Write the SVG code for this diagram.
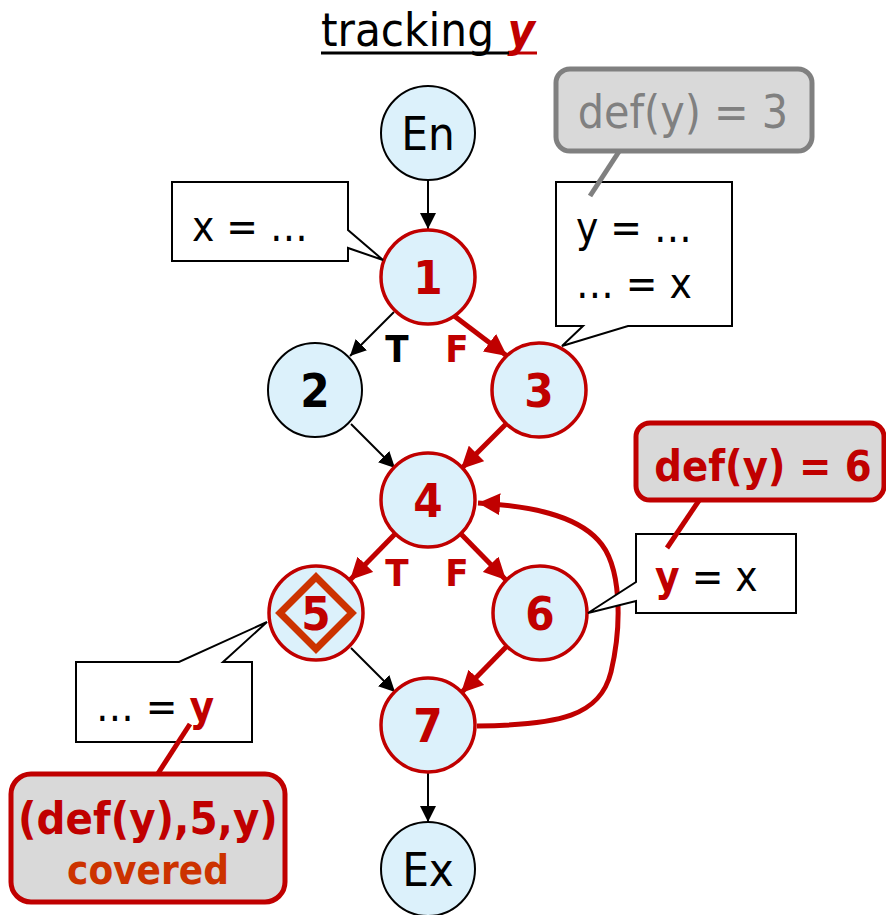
<svg xmlns="http://www.w3.org/2000/svg" width="886" height="915" viewBox="0 0 886 915">
<defs>
<style>
text{font-family:"DejaVu Sans Condensed","DejaVu Sans",sans-serif;font-stretch:condensed}
.node{fill:#dcf1fb;stroke:#000;stroke-width:2}
.rnode{fill:#dcf1fb;stroke:#c00000;stroke-width:3.5}
.nl{font-size:47px;text-anchor:middle;fill:#000}
.rl{font-size:47px;font-weight:bold;text-anchor:middle;fill:#c00000}
.e{stroke:#000;stroke-width:2;fill:none;marker-end:url(#ab)}
.re{stroke:#c00000;stroke-width:5;fill:none;marker-end:url(#ar)}
.box{fill:#fff;stroke:#000;stroke-width:2}
.ct{font-size:42px;fill:#000}
.red{fill:#c00000;font-weight:bold}
.tf{font-size:38px;font-weight:bold}
</style>
<marker id="ab" viewBox="0 0 10 10" refX="10" refY="5" markerWidth="16" markerHeight="16" markerUnits="userSpaceOnUse" orient="auto"><path d="M0,0L10,5L0,10z" fill="#000"/></marker>
<marker id="ar" viewBox="0 0 10 10" refX="10" refY="5" markerWidth="22" markerHeight="22" markerUnits="userSpaceOnUse" orient="auto"><path d="M0,0L10,5L0,10z" fill="#c00000"/></marker>
</defs>
<rect width="886" height="915" fill="#fff"/>

<g id="title">
<text x="321" y="46" font-size="47"><tspan fill="#000">tracking </tspan><tspan fill="#c00000" font-weight="bold" font-style="italic">y</tspan></text>
<line x1="321" y1="53" x2="509" y2="53" stroke="#000" stroke-width="3"/>
<line x1="509" y1="53" x2="537" y2="53" stroke="#c00000" stroke-width="3"/>
</g>

<g id="connectors">
<line class="e" x1="428" y1="180" x2="428" y2="229"/>
<line class="e" x1="394" y1="312" x2="350" y2="356"/>
<line class="re" x1="449" y1="312" x2="507" y2="356"/>
<line class="e" x1="351" y1="424" x2="395" y2="468"/>
<line class="re" x1="506" y1="424" x2="461" y2="469"/>
<line class="re" x1="395" y1="534" x2="350" y2="580"/>
<line class="re" x1="461" y1="534" x2="506" y2="580"/>
<line class="e" x1="351" y1="648" x2="395" y2="692"/>
<line class="re" x1="506" y1="647" x2="461" y2="693"/>
<line class="e" x1="428" y1="773" x2="428" y2="822"/>
<path class="re" d="M477,726 C560,725 600,716 611,672 C622,625 622,565 598,540 C575,515 530,506 478,503"/>
<text class="tf" x="397" y="362" text-anchor="middle" fill="#000">T</text>
<text class="tf" x="457" y="362" text-anchor="middle" fill="#c00000">F</text>
<text class="tf" x="397" y="586" text-anchor="middle" fill="#c00000">T</text>
<text class="tf" x="457" y="586" text-anchor="middle" fill="#c00000">F</text>
</g>

<g id="nEn"><circle class="node" cx="428" cy="133" r="47"/><text class="nl" x="428" y="150">En</text></g>
<g id="n1"><circle class="rnode" cx="428" cy="277" r="47"/><text class="rl" x="428" y="294">1</text></g>
<g id="n2"><circle class="node" cx="315" cy="390" r="47"/><text class="nl" x="315" y="407" font-weight="bold">2</text></g>
<g id="n3"><circle class="rnode" cx="539" cy="390" r="47"/><text class="rl" x="539" y="407">3</text></g>
<g id="n4"><circle class="rnode" cx="428" cy="500" r="47"/><text class="rl" x="428" y="517">4</text></g>
<g id="n5"><circle class="rnode" cx="316" cy="613" r="47"/><path d="M316,577 L352,613 L316,649 L280,613 Z" fill="none" stroke="#cc3300" stroke-width="7"/><text class="rl" x="316" y="630">5</text></g>
<g id="n6"><circle class="rnode" cx="540" cy="613" r="47"/><text class="rl" x="540" y="630">6</text></g>
<g id="n7"><circle class="rnode" cx="428" cy="725" r="47"/><text class="rl" x="428" y="742">7</text></g>
<g id="nEx"><circle class="node" cx="428" cy="869" r="47"/><text class="nl" x="428" y="886">Ex</text></g>

<g id="c1">
<path class="box" d="M172,182 H348 V230 L383,260 L348,248 V261 H172 Z"/>
<text class="ct" x="192" y="241">x = …</text>
</g>

<g id="c3">
<path class="box" d="M556,182 H732 V326 H628 L562,346 L583,326 H556 Z"/>
<text class="ct" x="576" y="242">y = …</text>
<text class="ct" x="576" y="298">… = x</text>
</g>

<g id="d3">
<line x1="620" y1="150" x2="590" y2="196" stroke="#808080" stroke-width="5"/>
<rect x="556" y="69" width="256" height="82" rx="14" fill="#d9d9d9" stroke="#808080" stroke-width="5"/>
<text x="683" y="128" font-size="46" fill="#808080" text-anchor="middle">def(y) = 3</text>
</g>

<g id="c6">
<path class="box" d="M636,534 H796 V613 H636 V601 L588,613 L636,582 Z"/>
<text class="ct" x="655" y="591"><tspan class="red">y</tspan> = x</text>
</g>

<g id="d6">
<line x1="700" y1="499" x2="667" y2="548" stroke="#c00000" stroke-width="5"/>
<rect x="636" y="423" width="248" height="77" rx="14" fill="#d9d9d9" stroke="#c00000" stroke-width="5"/>
<text x="763" y="481" font-size="43" font-weight="bold" fill="#c00000" text-anchor="middle">def(y) = 6</text>
</g>

<g id="c5">
<path class="box" d="M76,662 H179 L267,622 L223,662 H252 V742 H76 Z"/>
<text class="ct" x="96" y="721">… = <tspan class="red">y</tspan></text>
</g>

<g id="d5">
<line x1="157" y1="775" x2="190" y2="724" stroke="#c00000" stroke-width="5"/>
<rect x="11" y="774" width="274" height="128" rx="20" fill="#d9d9d9" stroke="#c00000" stroke-width="5"/>
<text x="148" y="834" font-size="45" font-weight="bold" fill="#c00000" text-anchor="middle">(def(y),5,y)</text>
<text x="148" y="884" font-size="40" font-weight="bold" fill="#cc3300" text-anchor="middle">covered</text>
</g>
</svg>
